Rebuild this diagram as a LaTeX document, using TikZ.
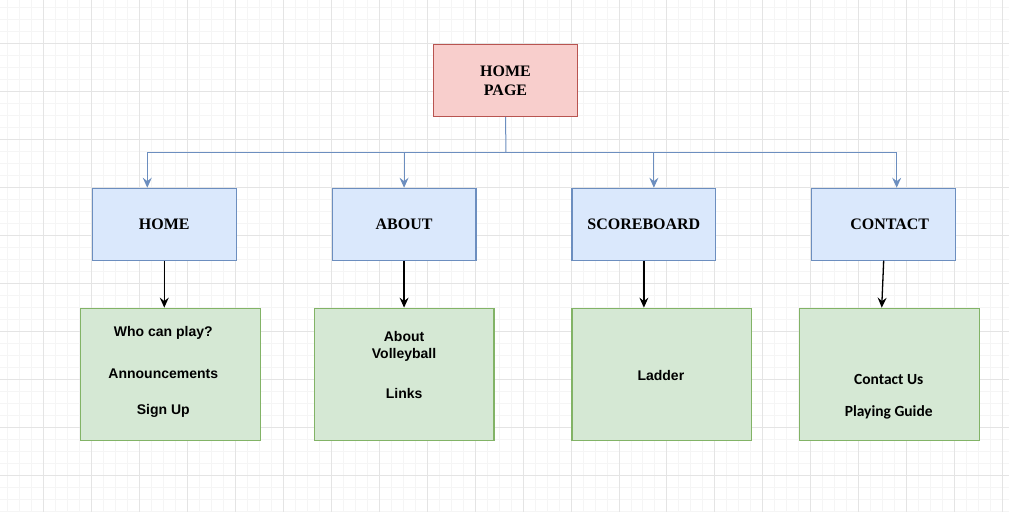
\documentclass[tikz,border=0pt]{standalone}
\usepackage{fontspec}
\usetikzlibrary{arrows.meta}
\newfontfamily\boxserif{Liberation Serif}
\newfontfamily\boxsans{Liberation Sans}
\newfontfamily\boxcalib{Carlito}
\definecolor{pinkfill}{HTML}{F8CECC}
\definecolor{pinkline}{HTML}{B85450}
\definecolor{bluefill}{HTML}{DAE8FC}
\definecolor{blueline}{HTML}{6C8EBF}
\definecolor{greenfill}{HTML}{D5E8D4}
\definecolor{greenline}{HTML}{82B366}
\definecolor{gridminor}{HTML}{F5F5F5}
\definecolor{gridmajor}{HTML}{E4E4E4}
\begin{document}
\begin{tikzpicture}[x=1pt,y=-1pt,
		pagebox/.style={draw=pinkline, fill=pinkfill, line width=1.1pt, minimum width=145pt, minimum height=72pt, align=center, font=\boxserif\bfseries\fontsize{16}{19}\selectfont},
		menubox/.style={draw=blueline, fill=bluefill, line width=1.1pt, minimum width=144pt, minimum height=72pt, font=\boxserif\bfseries\fontsize{16}{19}\selectfont},
		itembox/.style={draw=greenline, fill=greenfill, line width=1.1pt, minimum width=180pt, minimum height=132pt},
		itemtext/.style={align=center, font=\boxsans\bfseries\fontsize{14}{17}\selectfont},
		busline/.style={draw=blueline, line width=1pt, -{Stealth[length=10pt,width=9pt,inset=3.5pt]}},
		downline/.style={draw=black, line width=1.3pt, -{Stealth[length=10pt,width=9pt,inset=3.5pt]}}]
		\fill[white] (0,0) rectangle (1009,512);
		\foreach \x in {7,19,...,1003} \draw[gridminor, line width=0.8pt] (\x,0) -- (\x,512);
		\foreach \y in {7,19,...,511} \draw[gridminor, line width=0.8pt] (0,\y) -- (1009,\y);
		\foreach \x in {43,91,...,1003} \draw[gridmajor, line width=0.8pt] (\x,0) -- (\x,512);
		\foreach \y in {43,91,...,475} \draw[gridmajor, line width=0.8pt] (0,\y) -- (1009,\y);
		\useasboundingbox (0,0) rectangle (1009,512);
		\node[pagebox] (homepage) at (505.5,80) {HOME\\PAGE};
		\node[menubox] (home) at (164,224) {HOME};
		\node[menubox] (about) at (404,224) {ABOUT};
		\node[menubox] (score) at (644,224) {SCOREBOARD};
		\node[menubox] (contact) at (884,224) {\hspace*{12pt}CONTACT};
		\node[itembox] (homeitems) at (170,374) {};
		\node[itembox] (aboutitems) at (404,374) {};
		\node[itembox] (scoreitems) at (662,374) {};
		\node[itembox] (contactitems) at (890,374) {};
		\node[itemtext] (homelist) at (163,372) {Who can play?\\[25pt]Announcements\\[19pt]Sign Up};
		\node[itemtext] (aboutlist) at (404,365) {About\\Volleyball\\[23pt]Links};
		\node[itemtext] (scorelist) at (661,375) {Ladder};
		\node[itemtext, font=\boxcalib\bfseries\fontsize{15.5}{18}\selectfont] (contactlist) at (889,397) {Contact Us\\[14pt]Playing Guide};
		\coordinate (bus) at (506,152);
		\draw[draw=blueline, line width=1pt] (homepage.south) -- (bus);
		\draw[busline] (bus) -| ([xshift=-17pt]home.north);
		\draw[busline] (bus) -| (about.north);
		\draw[busline] (bus) -| ([xshift=10pt]score.north);
		\draw[busline] (bus) -| ([xshift=13pt]contact.north);
		\draw[downline] (home.south) -- (home.south |- homeitems.north);
		\draw[downline] (about.south) -- (about.south |- aboutitems.north);
		\draw[downline] (score.south) -- (score.south |- scoreitems.north);
		\draw[downline] (contact.south) -- ([xshift=-2pt]contact.south |- contactitems.north);
\end{tikzpicture}
\end{document}
